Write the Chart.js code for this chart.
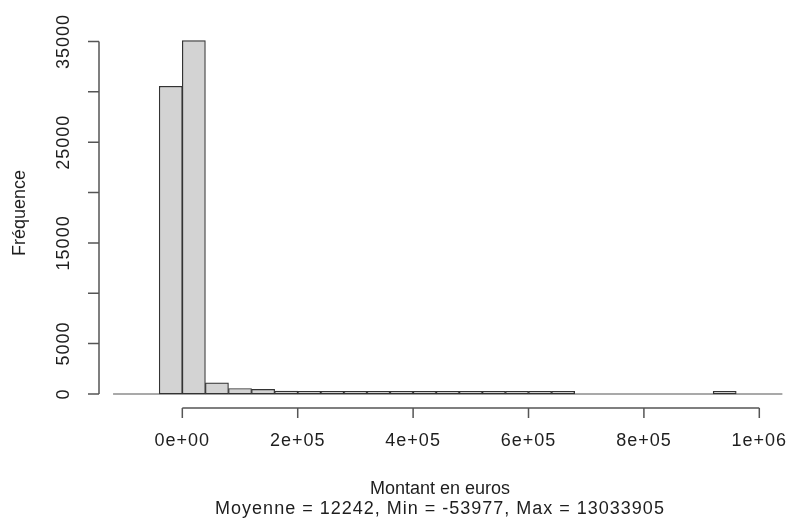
<!DOCTYPE html>
<html>
<head>
<meta charset="utf-8">
<script src="https://cdn.jsdelivr.net/npm/chart.js@4"></script>
<style>
  html, body { margin: 0; padding: 0; background: #fff; }
</style>
</head>
<body>
<canvas id="histChart" width="787" height="520"></canvas>
<script>
// histogram bins (left edge of each 40 000 euro bin) and counts
const binWidth = 40000;
const binLefts = [-120000, -80000, -40000, 0, 40000, 80000, 120000, 160000, 200000, 240000,
  280000, 320000, 360000, 400000, 440000, 480000, 520000, 560000, 600000, 640000,
  680000, 720000, 760000, 800000, 840000, 880000, 920000, 960000, 1000000];
const counts = [0, 0, 30550, 35100, 1100, 540, 450, 280, 140, 110,
  90, 75, 60, 55, 45, 40, 35, 30, 25, 20,
  0, 0, 0, 0, 0, 0, 40, 0, 0];

const xTicks = [0, 200000, 400000, 600000, 800000, 1000000];
const xTickLabels = ["0e+00", "2e+05", "4e+05", "6e+05", "8e+05", "1e+06"];
const yTicks = [0, 5000, 10000, 15000, 20000, 25000, 30000, 35000];
const yTickLabels = ["0", "5000", "", "15000", "", "25000", "", "35000"];

const xTitle = "Montant en euros";
const subTitle = "Moyenne = 12242, Min = -53977, Max = 13033905";
const yTitle = "Fréquence";

const FONT = '18px "Liberation Sans", Arial, sans-serif';
const INK = "#1e1e1e";
const AXIS = "#555555";

// R style axes, drawn off the chart scales
const rAxes = {
  id: "rAxes",
  beforeDatasetsDraw(chart) {
    const ctx = chart.ctx;
    const x = chart.scales.x, y = chart.scales.y;
    // flat line for the empty bins
    ctx.save();
    ctx.strokeStyle = "#8c8c8c";
    ctx.lineWidth = 1.5;
    ctx.beginPath();
    const y0 = y.getPixelForValue(0);
    ctx.moveTo(x.getPixelForValue(binLefts[0]), y0);
    ctx.lineTo(x.getPixelForValue(binLefts[binLefts.length - 1] + binWidth), y0);
    ctx.stroke();
    ctx.restore();
  },
  afterDraw(chart) {
    const ctx = chart.ctx;
    const area = chart.chartArea;
    const x = chart.scales.x, y = chart.scales.y;
    ctx.save();
    ctx.strokeStyle = AXIS;
    ctx.lineWidth = 1.5;
    ctx.fillStyle = INK;
    ctx.font = FONT;
    ctx.letterSpacing = "1px";

    // x axis
    const ax = area.bottom;
    ctx.beginPath();
    ctx.moveTo(x.getPixelForValue(xTicks[0]), ax);
    ctx.lineTo(x.getPixelForValue(xTicks[xTicks.length - 1]), ax);
    xTicks.forEach(v => {
      const px = x.getPixelForValue(v);
      ctx.moveTo(px, ax);
      ctx.lineTo(px, ax + 10);
    });
    ctx.stroke();
    ctx.textAlign = "center";
    ctx.textBaseline = "middle";
    xTicks.forEach((v, i) => {
      ctx.fillText(xTickLabels[i], x.getPixelForValue(v), ax + 33);
    });

    // y axis
    const ay = area.left;
    ctx.beginPath();
    ctx.moveTo(ay, y.getPixelForValue(yTicks[0]));
    ctx.lineTo(ay, y.getPixelForValue(yTicks[yTicks.length - 1]));
    yTicks.forEach(v => {
      const py = y.getPixelForValue(v);
      ctx.moveTo(ay, py);
      ctx.lineTo(ay - 11, py);
    });
    ctx.stroke();
    yTicks.forEach((v, i) => {
      if (!yTickLabels[i]) return;
      ctx.save();
      ctx.translate(ay - 35, y.getPixelForValue(v));
      ctx.rotate(-Math.PI / 2);
      ctx.fillText(yTickLabels[i], 0, 0);
      ctx.restore();
    });

    // titles
    const cx = 440;
    ctx.fillText(subTitle, cx, 509);
    ctx.letterSpacing = "0px";
    ctx.fillText(xTitle, cx, 489);
    ctx.save();
    ctx.translate(20, 213);
    ctx.rotate(-Math.PI / 2);
    ctx.fillText(yTitle, 0, 0);
    ctx.restore();

    ctx.restore();
  }
};

const points = binLefts.map((l, i) => ({ x: l + binWidth / 2, y: counts[i] === 0 ? null : counts[i] }));

new Chart("histChart", {
  type: "bar",
  data: {
    datasets: [{
      data: points,
      backgroundColor: "#d3d3d3",
      borderColor: "#333333",
      borderWidth: 1.2,
      borderSkipped: false,
      minBarLength: 2.5,
      barPercentage: 1,
      categoryPercentage: 1
    }]
  },
  options: {
    responsive: false,
    animation: false,
    layout: { padding: { left: 99, right: 0, top: 25, bottom: 112 } },
    plugins: { legend: { display: false }, tooltip: { enabled: false } },
    scales: {
      x: { type: "linear", display: false, offset: false, min: -144400, max: 1048000 },
      y: { display: false, min: -1400, max: 36640 }
    }
  },
  plugins: [rAxes]
});
</script>
</body>
</html>
